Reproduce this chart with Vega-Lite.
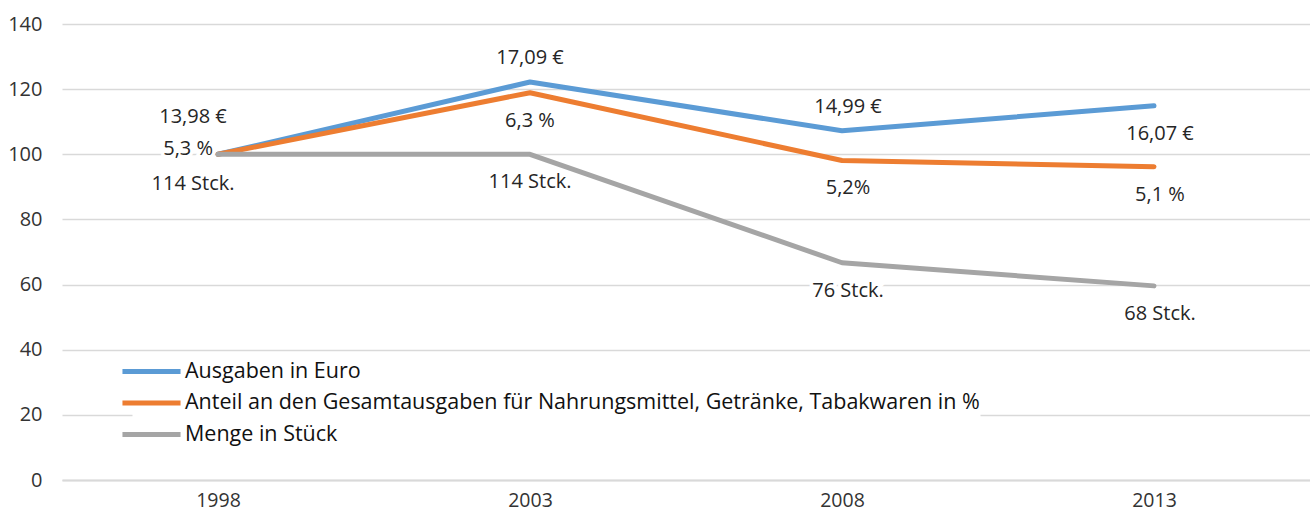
{
  "$schema": "https://vega.github.io/schema/vega-lite/v6.json",
  "width": 1248,
  "height": 456,
  "autosize": {"type": "none"},
  "padding": {"left": 62, "top": 24, "right": 0, "bottom": 33},
  "config": {
    "view": {"stroke": null},
    "font": "Open Sans",
    "text": {"font": "Open Sans"}
  },
  "data": {
    "values": [
      {"year": "1998", "series": "Ausgaben in Euro", "value": 100, "label": "13,98 €", "pos": "lo"},
      {"year": "2003", "series": "Ausgaben in Euro", "value": 122.2, "label": "17,09 €", "pos": "o"},
      {"year": "2008", "series": "Ausgaben in Euro", "value": 107.2, "label": "14,99 €", "pos": "o"},
      {"year": "2013", "series": "Ausgaben in Euro", "value": 114.9, "label": "16,07 €", "pos": "u"},
      {"year": "1998", "series": "Anteil an den Gesamtausgaben für Nahrungsmittel, Getränke, Tabakwaren in %", "value": 100, "label": "5,3 %", "pos": "l"},
      {"year": "2003", "series": "Anteil an den Gesamtausgaben für Nahrungsmittel, Getränke, Tabakwaren in %", "value": 118.9, "label": "6,3 %", "pos": "u"},
      {"year": "2008", "series": "Anteil an den Gesamtausgaben für Nahrungsmittel, Getränke, Tabakwaren in %", "value": 98.1, "label": "5,2%", "pos": "u"},
      {"year": "2013", "series": "Anteil an den Gesamtausgaben für Nahrungsmittel, Getränke, Tabakwaren in %", "value": 96.2, "label": "5,1 %", "pos": "u"},
      {"year": "1998", "series": "Menge in Stück", "value": 100, "label": "114 Stck.", "pos": "lu"},
      {"year": "2003", "series": "Menge in Stück", "value": 100, "label": "114 Stck.", "pos": "u"},
      {"year": "2008", "series": "Menge in Stück", "value": 66.7, "label": "76 Stck.", "pos": "u"},
      {"year": "2013", "series": "Menge in Stück", "value": 59.6, "label": "68 Stck.", "pos": "u"}
    ]
  },
  "encoding": {
    "x": {
      "field": "year",
      "type": "ordinal",
      "scale": {"type": "point", "padding": 0.5},
      "axis": {
        "title": null,
        "labelAngle": 0,
        "labelFontSize": 19.5,
        "labelColor": "#333333",
        "labelPadding": 11,
        "ticks": false,
        "domainColor": "#D9D9D9",
        "domainWidth": 2,
        "grid": false
      }
    },
    "y": {
      "field": "value",
      "type": "quantitative",
      "scale": {"domain": [0, 140], "nice": false, "zero": true},
      "axis": {
        "title": null,
        "values": [0, 20, 40, 60, 80, 100, 120, 140],
        "labelFontSize": 20,
        "labelColor": "#333333",
        "labelPadding": 20,
        "ticks": false,
        "domain": false,
        "gridColor": "#D9D9D9",
        "gridWidth": 1.5
      }
    }
  },
  "layer": [
    {
      "mark": {"type": "line", "strokeWidth": 5, "strokeCap": "round", "strokeJoin": "round"},
      "encoding": {
        "color": {
          "field": "series",
          "type": "nominal",
          "sort": ["Ausgaben in Euro", "Anteil an den Gesamtausgaben für Nahrungsmittel, Getränke, Tabakwaren in %", "Menge in Stück"],
          "scale": {
            "domain": ["Ausgaben in Euro", "Anteil an den Gesamtausgaben für Nahrungsmittel, Getränke, Tabakwaren in %", "Menge in Stück"],
            "range": ["#5B9BD5", "#ED7D31", "#A5A5A5"]
          },
          "legend": {
            "title": null,
            "orient": "none",
            "legendX": 70.5,
            "legendY": 328.5,
            "fillColor": "white",
            "padding": 0,
            "symbolType": "M-1.76,0H1.76",
            "symbolSize": 1089,
            "symbolStrokeWidth": 5,
            "symbolStrokeCap": "round",
            "labelFontSize": 21.5,
            "labelColor": "#111111",
            "labelOffset": 14.5,
            "labelLimit": 1000,
            "rowPadding": 1.5
          }
        },
        "order": {"field": "year"}
      }
    },
    {
      "mark": {
        "type": "text",
        "fontSize": 20,
        "baseline": "middle",
        "stroke": "white",
        "strokeWidth": 7,
        "fill": "white",
        "align": {"expr": "datum.pos == 'l' ? 'right' : 'center'"},
        "dx": {"expr": "datum.pos == 'lo' || datum.pos == 'lu' ? -25 : datum.pos == 'l' ? -5 : datum.year == '2003' ? 0 : 6"},
        "dy": {"expr": "datum.pos == 'o' ? -24 : datum.pos == 'lo' ? -37 : datum.pos == 'l' ? -5 : datum.pos == 'lu' ? 30 : 28"}
      },
      "encoding": {"text": {"field": "label"}}
    },
    {
      "mark": {
        "type": "text",
        "fontSize": 20,
        "baseline": "middle",
        "fill": "#262626",
        "align": {"expr": "datum.pos == 'l' ? 'right' : 'center'"},
        "dx": {"expr": "datum.pos == 'lo' || datum.pos == 'lu' ? -25 : datum.pos == 'l' ? -5 : datum.year == '2003' ? 0 : 6"},
        "dy": {"expr": "datum.pos == 'o' ? -24 : datum.pos == 'lo' ? -37 : datum.pos == 'l' ? -5 : datum.pos == 'lu' ? 30 : 28"}
      },
      "encoding": {"text": {"field": "label"}}
    }
  ]
}
